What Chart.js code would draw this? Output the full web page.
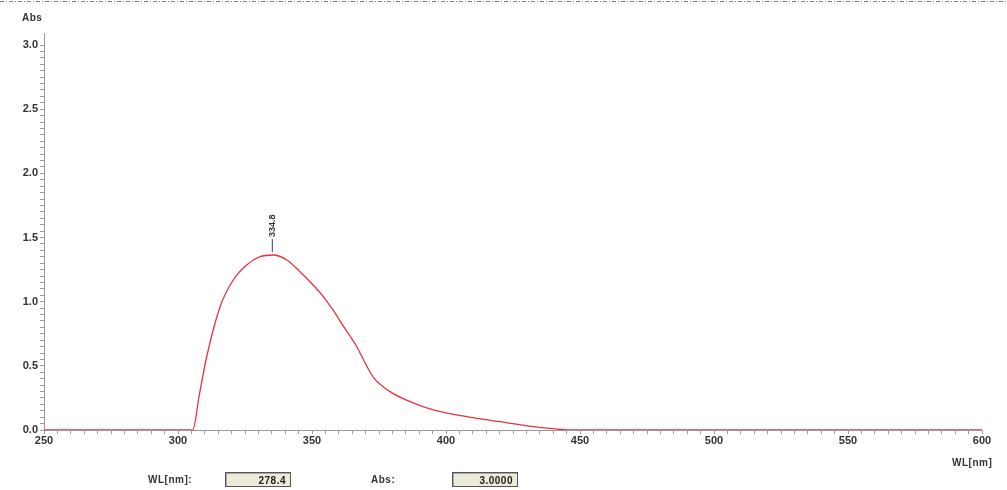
<!DOCTYPE html>
<html>
<head>
<meta charset="utf-8">
<script src="https://cdn.jsdelivr.net/npm/chart.js@4.4.1/dist/chart.umd.min.js"></script>
<style>
  html, body { margin: 0; padding: 0; background: #fff; }
  #wrap { position: relative; width: 1007px; height: 490px; overflow: hidden; }
  canvas { position: absolute; left: 0; top: 0; }
  .lbl { position: absolute; font-family: "Liberation Sans", Arial, sans-serif; font-weight: bold; font-size: 10px; color: #333; white-space: nowrap; letter-spacing: 0.5px; }
  .box { position: absolute; height: 15px; background: #ecebd8; border: 1px solid #555; box-shadow: inset 1px 1px 0 #aaa;
         font-family: "Liberation Sans", Arial, sans-serif; font-weight: bold; font-size: 10px; color: #222; letter-spacing: 0.5px;
         text-align: right; line-height: 15px; padding-right: 4px; box-sizing: border-box; }
</style>
</head>
<body>
<div id="wrap">
  <canvas id="c" width="1007" height="490"></canvas>
  <div class="lbl" style="left:22px; top:12px;">Abs</div>
  <div class="lbl" style="left:952px; top:457px;">WL[nm]</div>
  <div class="lbl" style="left:148px; top:474px;">WL[nm]:</div>
  <div class="box" style="left:225px; top:472px; width:66px;">278.4</div>
  <div class="lbl" style="left:371px; top:474px;">Abs:</div>
  <div class="box" style="left:452px; top:472px; width:66px;">3.0000</div>
</div>
<script>
// ---- data ----
const wavelengths = [250, 305.5, 308.0, 310.7, 315.7, 320.6, 325.6, 330.6, 335.6, 340.6, 345.5, 350.0, 354.2, 358.0, 361.7, 366.7, 370.4, 372.9, 379.1, 386.6, 395.3, 407.7, 420.1, 432.6, 440.0, 446.0, 600];
const absorbance  = [0,   0,     0.28,  0.571, 0.961, 1.169, 1.286, 1.351, 1.364, 1.325, 1.234, 1.140, 1.040, 0.930, 0.810, 0.649, 0.500, 0.410, 0.299, 0.221, 0.156, 0.104, 0.065, 0.026, 0.010, 0,     0];
const peakLabel = "334.8";
const peakWL = 335.0;
const xMin = 250, xMax = 600, xMinorStep = 5, xMajorStep = 50;
const yMin = 0, yMax = 3.094, yMinorStep = 0.05, yMajorStep = 0.5, yTopTick = 3.0;

const points = wavelengths.map((w, i) => ({ x: w, y: absorbance[i] }));

const topBorder = {
  id: 'topBorder',
  beforeDraw(chart) {
    const ctx = chart.ctx;
    ctx.save();
    ctx.strokeStyle = '#6f7f9c';
    ctx.lineWidth = 1;
    ctx.setLineDash([4, 2, 1, 2]);
    ctx.beginPath();
    ctx.moveTo(0, 1.5);
    ctx.lineTo(chart.width, 1.5);
    ctx.stroke();
    ctx.restore();
  }
};

const peakMarker = {
  id: 'peakMarker',
  afterDatasetsDraw(chart) {
    const xs = chart.scales.x, ys = chart.scales.y;
    const maxY = Math.max(...absorbance);
    const px = xs.getPixelForValue(peakWL);
    const py = ys.getPixelForValue(maxY);
    const ctx = chart.ctx;
    ctx.save();
    ctx.strokeStyle = '#2a3f8f';
    ctx.lineWidth = 1;
    ctx.beginPath();
    ctx.moveTo(px + 0.5, py - 3);
    ctx.lineTo(px + 0.5, py - 16);
    ctx.stroke();
    ctx.translate(px + 0.5, py - 18);
    ctx.rotate(-Math.PI / 2);
    ctx.fillStyle = '#333';
    ctx.font = 'bold 9px "Liberation Sans", Arial, sans-serif';
    ctx.textAlign = 'left';
    ctx.textBaseline = 'middle';
    ctx.fillText(peakLabel, 0, 0);
    ctx.restore();
  }
};

const tickFont = { family: '"Liberation Sans", Arial, sans-serif', size: 11, weight: 'bold' };

new Chart(document.getElementById('c'), {
  type: 'line',
  data: {
    datasets: [{
      data: points,
      borderColor: '#e8323c',
      borderWidth: 1.3,
      pointRadius: 0,
      fill: false,
      cubicInterpolationMode: 'monotone'
    }]
  },
  options: {
    responsive: false,
    animation: false,
    devicePixelRatio: 1,
    layout: { padding: { left: 0, right: 25, top: 33, bottom: 0 } },
    plugins: { legend: { display: false }, tooltip: { enabled: false } },
    scales: {
      x: {
        type: 'linear', min: xMin, max: xMax,
        afterFit(s) { s.height = 60; },
        afterBuildTicks(s) {
          const t = [];
          for (let v = xMin; v <= xMax; v += xMinorStep) t.push({ value: v });
          s.ticks = t;
        },
        ticks: {
          autoSkip: false, maxRotation: 0, padding: 0,
          color: '#333', font: tickFont,
          callback: v => (v % xMajorStep === 0 ? String(v) : '')
        },
        grid: {
          drawOnChartArea: false, drawTicks: true, tickLength: 4,
          color: '#9a9a9a', lineWidth: 1
        },
        border: { display: true, color: '#9a9a9a' }
      },
      y: {
        type: 'linear', min: yMin, max: yMax,
        afterFit(s) { s.width = 44; },
        afterBuildTicks(s) {
          const t = [];
          const n = Math.round(yTopTick / yMinorStep);
          for (let i = 0; i <= n; i++) t.push({ value: Math.round(i * yMinorStep * 100) / 100 });
          s.ticks = t;
        },
        ticks: {
          autoSkip: false, padding: 2,
          color: '#333', font: tickFont,
          callback: v => (Math.abs(v / yMajorStep - Math.round(v / yMajorStep)) < 1e-6 ? v.toFixed(1) : '')
        },
        grid: {
          drawOnChartArea: false, drawTicks: true, tickLength: 4,
          color: '#9a9a9a', lineWidth: 1
        },
        border: { display: true, color: '#9a9a9a' }
      }
    }
  },
  plugins: [topBorder, peakMarker]
});
</script>
</body>
</html>
